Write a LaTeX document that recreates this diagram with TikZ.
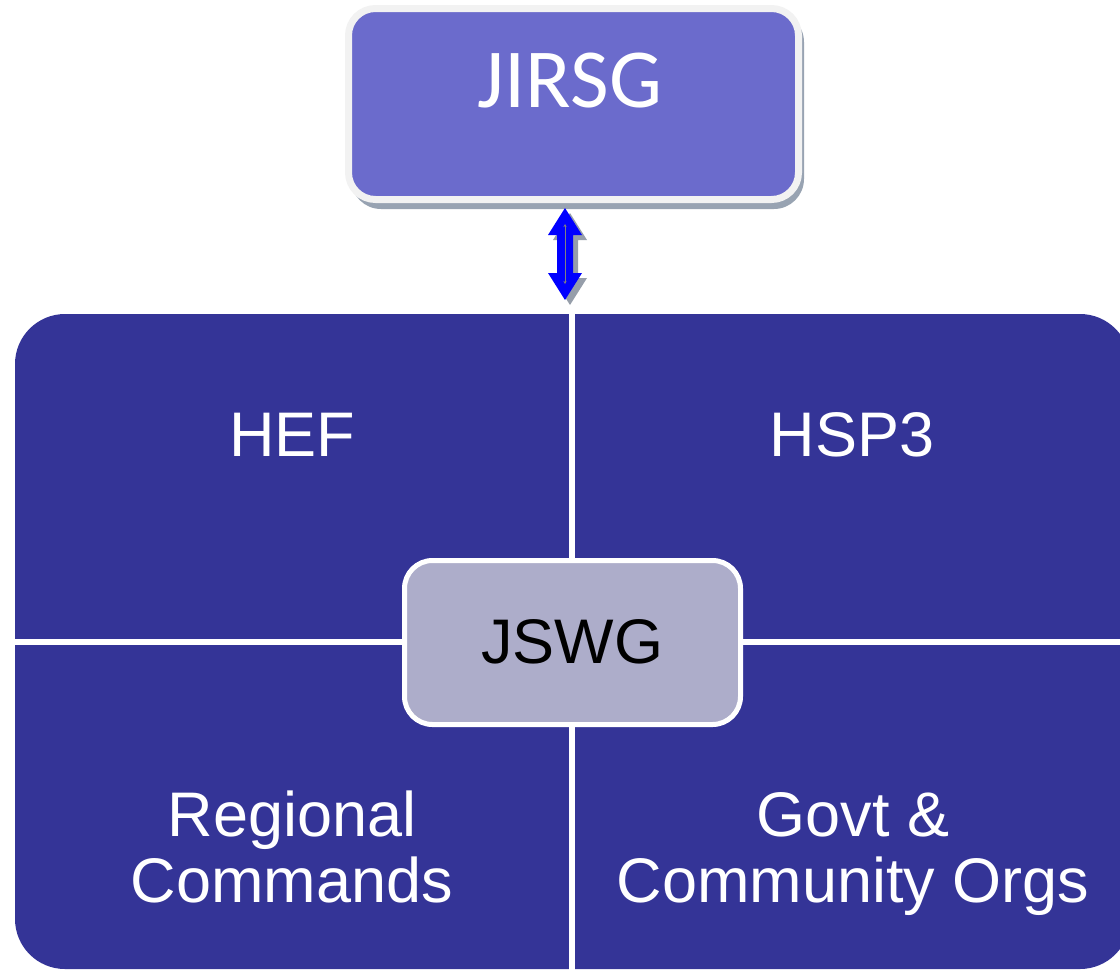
\documentclass[tikz,border=0pt]{standalone}
\usepackage{fontspec}
\usetikzlibrary{arrows.meta}
\setmainfont{Liberation Sans}
\newfontfamily\calib{Carlito}
\definecolor{bigblue}{RGB}{52,52,151}
\definecolor{topfill}{RGB}{107,107,204}
\definecolor{midfill}{RGB}{173,173,202}
\definecolor{shadowgray}{RGB}{152,163,178}
\definecolor{rimwhite}{RGB}{242,242,242}
\definecolor{arrowblue}{RGB}{0,0,255}
\definecolor{arrowshadow}{RGB}{150,158,170}
\tikzset{
  quadlabel/.style={anchor=base, text=white, inner sep=0pt, align=center,
    font=\fontsize{63}{66}\selectfont},
  divider/.style={white, line width=6pt},
}
\begin{document}
\begin{tikzpicture}[x=1pt,y=-1pt]
\useasboundingbox (0,0) rectangle (1120,970);
% big box with four quadrants
\begin{scope}
\clip (0,0) rectangle (1120,970);
\fill[bigblue, rounded corners=50pt] (15,314) rectangle (1130,969);
\draw[divider] (572,314) -- (572,970);
\draw[divider] (15,642) -- (1130,642);
\end{scope}
% JIRSG box
\fill[shadowgray, rounded corners=30pt] (351,12) rectangle (804,209);
\draw[rimwhite, fill=topfill, line width=7pt, rounded corners=27pt] (348.5,8.5) rectangle (798.5,199.5);
\node[anchor=base, text=white, inner sep=0pt, font=\calib\fontsize{84}{90}\selectfont] (jirsg) at (570,107) {JIRSG};
% double arrow
\coordinate (atop) at (565,224);
\coordinate (abot) at (565,284);
\begin{scope}[shift={(5,5)}]
\fill[arrowshadow] (565,208) -- (582,235) -- (573,235) -- (573,273) -- (582,273) -- (565,300)
  -- (548,273) -- (557,273) -- (557,235) -- (548,235) -- cycle;
\end{scope}
\fill[arrowblue] (565,208) -- (582,235) -- (573,235) -- (573,273) -- (582,273) -- (565,300)
  -- (548,273) -- (557,273) -- (557,235) -- (548,235) -- cycle;
\draw[gray, line width=0.8pt, {Stealth[length=3pt,width=3pt]}-{Stealth[length=3pt,width=3pt]}] (atop) -- (abot);
% quadrant labels
\node[quadlabel] (hef) at (292,456) {HEF};
\node[quadlabel] (hsp) at (852,456) {HSP3};
\node[quadlabel] (reg) at (292,902) {Regional\\Commands};
\node[quadlabel] (govt) at (853,902) {Govt \&\\Community Orgs};
% JSWG box
\draw[white, fill=midfill, line width=5pt, rounded corners=28pt] (404.5,560.5) rectangle (740.5,724.5);
\node[anchor=base, inner sep=0pt, text=black, font=\fontsize{63}{66}\selectfont] (jswg) at (572,663) {JSWG};
\end{tikzpicture}
\end{document}
